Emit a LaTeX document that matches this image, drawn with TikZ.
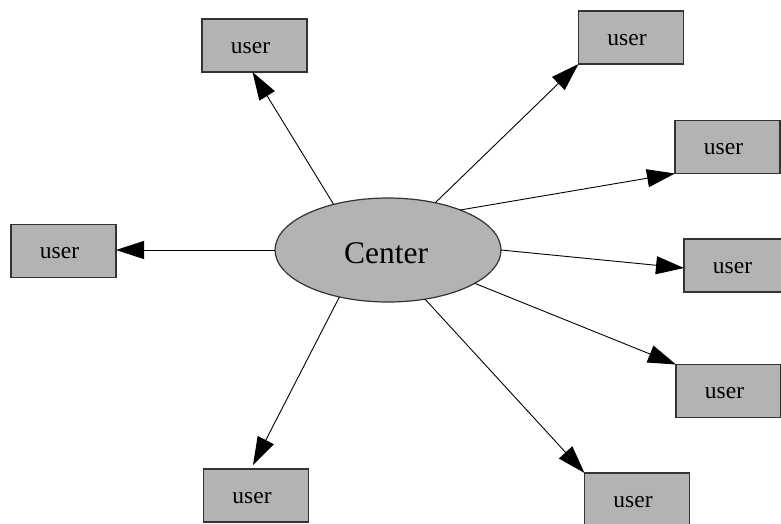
\documentclass[tikz,border=0pt]{standalone}
\usepackage{fontspec}
\setmainfont{Liberation Serif}
\usetikzlibrary{shapes.geometric,arrows.meta}
\definecolor{boxfill}{HTML}{B3B3B3}
\definecolor{boxline}{HTML}{333333}
\tikzset{
  userbox/.style={rectangle, draw=boxline, line width=1.2pt, fill=boxfill,
    minimum width=105pt, minimum height=53pt, inner sep=0pt, outer sep=0pt,
    label={[xshift=-4pt, yshift=-2.5pt, font=\fontsize{23.5}{28}\selectfont, text=black]center:user}},
  hub/.style={ellipse, draw=boxline, line width=1.2pt, fill=boxfill,
    minimum width=226pt, minimum height=104pt, inner sep=0pt, outer sep=0pt,
    label={[xshift=-2pt, yshift=-3pt, font=\fontsize{31.5}{36}\selectfont, text=black]center:Center}},
  link/.style={draw=black, line width=0.9pt, -{Triangle[length=28pt,width=18pt]}}
}
\begin{document}
\begin{tikzpicture}[x=1pt, y=-1pt]
  \useasboundingbox (0,0) rectangle (781,523);
  \clip (0,0) rectangle (781,523);

  % hub
  \node[hub] (c) at (388,250) {};

  % user boxes
  \node[userbox] (tl) at (254.5,45.5) {};
  \node[userbox] (tr) at (631,37.5) {};
  \node[userbox] (ra) at (727.5,147) {};
  \node[userbox] (rb) at (736.5,265.5) {};
  \node[userbox] (rc) at (728.5,391) {};
  \node[userbox] (br) at (637,499.5) {};
  \node[userbox] (bl) at (256,495.5) {};
  \node[userbox] (l)  at (63.5,251) {};

  % connectors from the hub to each user
  \draw[link] (c.140)   -- ([xshift=-2pt]tl.south);
  \draw[link] (c.45)    -- (tr.south west);
  \draw[link] (c.29.7)  -- (ra.south west);
  \draw[link] (c.0)     -- ([yshift=-2.5pt]rb.west);
  \draw[link] (c.-21.8) -- (rc.north west);
  \draw[link] (c.-53.8) -- (br.north west);
  \draw[link] (c.-136)  -- ([xshift=-3pt,yshift=4pt]bl.north);
  \draw[link] (c.180)   -- ([yshift=1pt]l.east);
\end{tikzpicture}
\end{document}
